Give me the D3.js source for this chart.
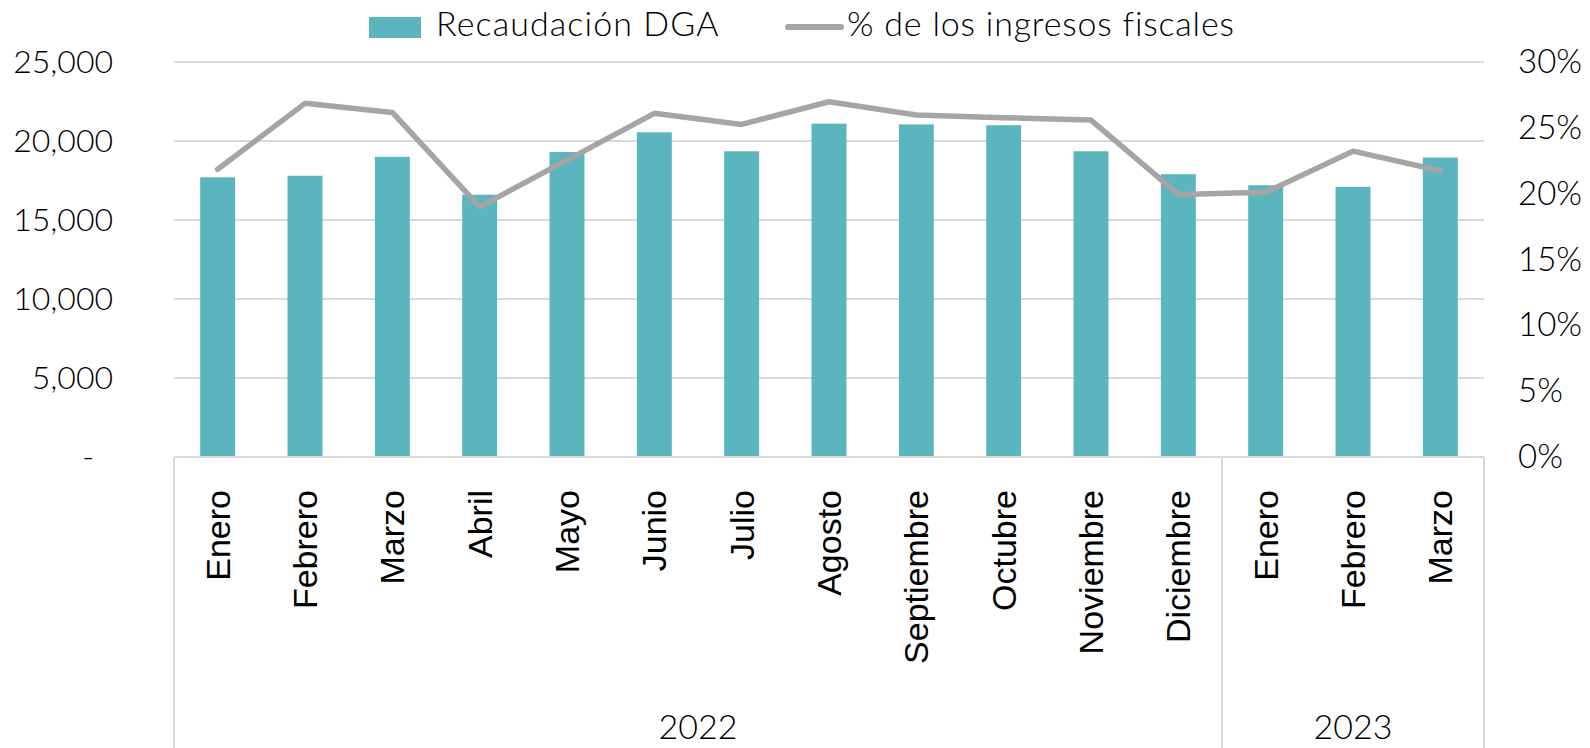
<!DOCTYPE html>
<html>
<head>
<meta charset="utf-8">
<script src="https://cdn.jsdelivr.net/npm/d3@7"></script>
<style>
  body { margin: 0; background: #fff; }
  svg { display: block; }
</style>
</head>
<body>
<div id="chart"></div>
<script>
// months on the axis, in order
const months = ["Enero", "Febrero", "Marzo", "Abril", "Mayo", "Junio", "Julio", "Agosto",
  "Septiembre", "Octubre", "Noviembre", "Diciembre", "Enero", "Febrero", "Marzo"];
// year groups under the months
const years = ["2022", "2023"];
const yearCounts = [12, 3];
// Recaudación DGA (left axis)
const recaudacion = [17700, 17800, 19000, 16600, 19300, 20550, 19350, 21100,
  21050, 21000, 19350, 17900, 17200, 17100, 18950];
// % de los ingresos fiscales (right axis)
const porcentaje = [0.2185, 0.2686, 0.2617, 0.190, 0.2255, 0.261, 0.2526, 0.2698,
  0.2597, 0.2577, 0.2559, 0.1994, 0.201, 0.2323, 0.2174];
const leftTicks = [0, 5000, 10000, 15000, 20000, 25000];
const rightTicks = [0, 0.05, 0.10, 0.15, 0.20, 0.25, 0.30];

const width = 1590, height = 748;
const margin = {top: 62, right: 106, bottom: 291, left: 174};
const barColor = "#5ab5bf", lineColor = "#a5a5a5", gridColor = "#d9d9d9";
const numFont = "Lato, 'Noto Sans', sans-serif";
const catFont = "'Liberation Sans', Arial, sans-serif";
const numWeight = 300;

const svg = d3.select("#chart").append("svg")
  .attr("width", width)
  .attr("height", height);

const x = d3.scaleBand()
  .domain(d3.range(months.length))
  .range([margin.left, width - margin.right])
  .paddingInner(0.6)
  .paddingOuter(0.3);

const y = d3.scaleLinear()
  .domain([0, 25000])
  .range([height - margin.bottom, margin.top]);

const y2 = d3.scaleLinear()
  .domain([0, 0.30])
  .range([height - margin.bottom, margin.top]);

const baseY = y(0);

// gridlines
svg.append("g")
  .selectAll("line")
  .data(leftTicks.filter(d => d > 0))
  .join("line")
  .attr("x1", margin.left)
  .attr("x2", width - margin.right)
  .attr("y1", d => y(d))
  .attr("y2", d => y(d))
  .attr("stroke", gridColor)
  .attr("stroke-width", 2);

// left axis
const gy = svg.append("g")
  .attr("transform", `translate(${margin.left},0)`)
  .call(d3.axisLeft(y)
    .tickValues(leftTicks)
    .tickSize(0)
    .tickPadding(61)
    .tickFormat(d => d === 0 ? "-" : d3.format(",")(d)));
gy.select(".domain").remove();
gy.selectAll("text")
  .attr("font-family", numFont)
  .attr("font-weight", numWeight)
  .attr("font-size", 32)
  .attr("fill", "#000")
  .attr("dx", d => d === 0 ? -19 : 0);

// right axis
const gy2 = svg.append("g")
  .attr("transform", `translate(${width - margin.right},0)`)
  .call(d3.axisRight(y2)
    .tickValues(rightTicks)
    .tickSize(0)
    .tickPadding(34)
    .tickFormat(d3.format(".0%")));
gy2.select(".domain").remove();
gy2.selectAll("text")
  .attr("font-family", numFont)
  .attr("font-weight", numWeight)
  .attr("font-size", 33)
  .attr("fill", "#000");

// bars
svg.append("g")
  .attr("fill", barColor)
  .selectAll("rect")
  .data(recaudacion)
  .join("rect")
  .attr("x", (d, i) => x(i))
  .attr("width", x.bandwidth())
  .attr("y", d => y(d))
  .attr("height", d => baseY - y(d));

// baseline
svg.append("line")
  .attr("x1", margin.left)
  .attr("x2", width - margin.right)
  .attr("y1", baseY)
  .attr("y2", baseY)
  .attr("stroke", gridColor)
  .attr("stroke-width", 2);

// month labels
const gx = svg.append("g")
  .attr("transform", `translate(0,${baseY})`)
  .call(d3.axisBottom(x).tickSize(0).tickFormat(i => months[i]));
gx.select(".domain").remove();
gx.selectAll("text")
  .attr("transform", "rotate(-90)")
  .attr("text-anchor", "end")
  .attr("x", -33)
  .attr("y", 0)
  .attr("dy", "0.35em")
  .attr("font-family", catFont)
  .attr("font-size", 34)
  .attr("fill", "#000");

// year groups: separators and labels
const starts = yearCounts.map((c, i) => d3.sum(yearCounts.slice(0, i)));
const edge = k => x.range()[0] + k * x.step();
const bounds = starts.concat([months.length]);
svg.append("g")
  .selectAll("line")
  .data(bounds)
  .join("line")
  .attr("x1", d => edge(d))
  .attr("x2", d => edge(d))
  .attr("y1", baseY)
  .attr("y2", height)
  .attr("stroke", gridColor)
  .attr("stroke-width", 2);

svg.append("g")
  .selectAll("text")
  .data(years)
  .join("text")
  .attr("x", (d, i) => (edge(starts[i]) + edge(starts[i] + yearCounts[i])) / 2)
  .attr("y", 739)
  .attr("text-anchor", "middle")
  .attr("font-family", numFont)
  .attr("font-weight", numWeight)
  .attr("font-size", 34)
  .attr("fill", "#000")
  .text(d => d);

// percentage line
const line = d3.line()
  .x((d, i) => x(i) + x.bandwidth() / 2)
  .y(d => y2(d));
svg.append("path")
  .datum(porcentaje)
  .attr("d", line)
  .attr("fill", "none")
  .attr("stroke", lineColor)
  .attr("stroke-width", 5.5)
  .attr("stroke-linejoin", "round")
  .attr("stroke-linecap", "round");

// legend
const legend = svg.append("g")
  .attr("font-family", numFont)
  .attr("font-weight", numWeight)
  .attr("font-size", 34)
  .attr("fill", "#000");
legend.append("rect")
  .attr("x", 369).attr("y", 17)
  .attr("width", 52).attr("height", 21)
  .attr("fill", barColor);
legend.append("text")
  .attr("x", 436).attr("y", 36)
  .attr("letter-spacing", 1.1)
  .text("Recaudación DGA");
legend.append("line")
  .attr("x1", 788).attr("x2", 841)
  .attr("y1", 27).attr("y2", 27)
  .attr("stroke", lineColor)
  .attr("stroke-width", 6)
  .attr("stroke-linecap", "round");
legend.append("text")
  .attr("x", 847).attr("y", 36)
  .attr("letter-spacing", 0.8)
  .text("% de los ingresos fiscales");
</script>
</body>
</html>
